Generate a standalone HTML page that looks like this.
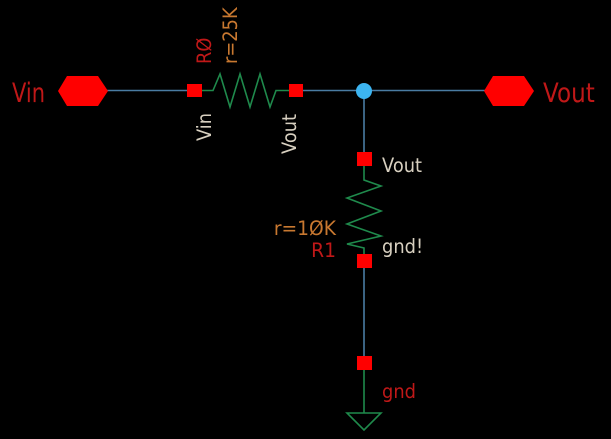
<!DOCTYPE html>
<html><head><style>html,body{margin:0;padding:0;background:#000;width:611px;height:439px;overflow:hidden}</style></head>
<body>
<svg width="611" height="439" xmlns="http://www.w3.org/2000/svg" style="display:block">
<rect width="611" height="439" fill="#000"/>
<g stroke="#4a7ca3" stroke-width="1.6" fill="none">
<line x1="106" y1="90.5" x2="188" y2="90.5"/>
<line x1="302" y1="90.5" x2="486" y2="90.5"/>
<line x1="364" y1="90.5" x2="364" y2="153"/>
<line x1="364" y1="266" x2="364" y2="357"/>
</g>
<g stroke="#1f8a4c" stroke-width="1.6" fill="none">
<polyline points="202,90.5 213,90.5 220,74 230,107 240,74 250,107 260,74 270,107 276,90.5 289,90.5"/>
<polyline points="364,165 364,180 381,186 347,198 381,211 347,224 381,236 347,244 364,248 364,255"/>
<line x1="364" y1="370" x2="364" y2="413"/>
<polygon points="347,413 381,413 364,430"/>
</g>
<g fill="#ff0000">
<polygon points="58,91 67,76 98,76 108,91 98,106 67,106"/>
<polygon points="484,91 493,76 524,76 534,91 524,106 493,106"/>
<rect x="187" y="84" width="15" height="13"/>
<rect x="289" y="84" width="14" height="13"/>
<rect x="357" y="152" width="15" height="14"/>
<rect x="357" y="254" width="15" height="14"/>
<rect x="357" y="356" width="15" height="14"/>
</g>
<circle cx="364" cy="91" r="8" fill="#3cb4f0"/>
<g font-family="DejaVu Sans, sans-serif">
<text transform="translate(12,102) scale(1,1.25)" font-size="21" fill="#c01818">Vin</text>
<text transform="translate(543,102) scale(1.1,1.25)" font-size="21" fill="#c01818">Vout</text>
<text transform="translate(382,172) scale(1.05,1.15)" font-size="17" fill="#d8d0c0">Vout</text>
<text transform="translate(382,253) scale(1.05,1.15)" font-size="17" fill="#d8d0c0">gnd!</text>
<text transform="translate(336,235) scale(1.1,1.15)" font-size="17" fill="#c87830" text-anchor="end">r=1ØK</text>
<text transform="translate(336,257) scale(1.1,1.15)" font-size="17" fill="#c01818" text-anchor="end">R1</text>
<text transform="translate(382,398) scale(1.05,1.15)" font-size="17" fill="#c01818">gnd</text>
<text transform="translate(211,64) rotate(-90) scale(1.05,1.15)" font-size="17" fill="#c01818">RØ</text>
<text transform="translate(237,64) rotate(-90) scale(1.05,1.15)" font-size="17" fill="#c87830">r=25K</text>
<text transform="translate(211,141) rotate(-90) scale(1.05,1.15)" font-size="17" fill="#d8d0c0">Vin</text>
<text transform="translate(296,154) rotate(-90) scale(1.05,1.15)" font-size="17" fill="#d8d0c0">Vout</text>
</g>
</svg>
</body></html>
